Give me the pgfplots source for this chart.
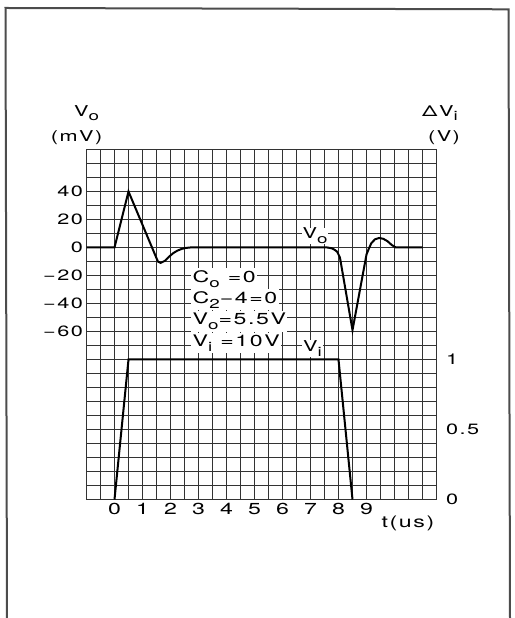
\documentclass[border=0pt]{standalone}
\usepackage{fontspec}
\setmainfont{TeX Gyre Heros}[FakeStretch=1.45,LetterSpace=10]
\usepackage{graphicx}
\usepackage{pgfplots}
\pgfplotsset{compat=1.18}
\newcommand\lo[1]{\raisebox{-0.3em}{\fontsize{13}{13}\selectfont #1}}
\newcommand\fs[1]{\fontsize{#1}{#1}\selectfont}
\begin{document}
\begin{tikzpicture}
\useasboundingbox (0bp,0bp) rectangle (515bp,618bp);
\draw[line width=2bp, black!70] (7bp,-2bp) -- (5.5bp,610bp) -- (508.5bp,608.7bp) -- (510bp,-2bp);
\begin{axis}[at={(86.5bp,118.5bp)}, anchor=south west, scale only axis,
  width=350bp, height=350bp,
  xmin=-1, xmax=11.5, ymin=-180, ymax=70, clip=false,
  xtick={0,1,2,3,4,5,6,7,8,9}, xticklabels={0,1,2,3,4,5,6,7,8,9},
  minor xtick={-1,-0.5,0,0.5,1,1.5,2,2.5,3,3.5,4,4.5,5,5.5,6,6.5,7,7.5,8,8.5,9,9.5,10,10.5,11,11.5},
  ytick={-60,-40,-20,0,20,40}, yticklabels={−60,−40,−20,0,20,40},
  minor ytick={-180,-170,-160,-150,-140,-130,-120,-110,-100,-90,-80,-70,-60,-50,-40,-30,-20,-10,0,10,20,30,40,50,60,70},
  grid=minor,
  minor grid style={line width=1.3bp, black!80},
  axis line style={line width=1.3bp, black!80},
  major tick length=0, minor tick length=0,
  xticklabel style={font=\fs{16}},
  yticklabel style={font=\fs{15}},
]
\addplot[line width=2bp, black] coordinates {
(-1,0)(0,0)(0.5,40)(1.55,-10)(1.65,-11)(1.8,-9.5)(1.95,-6.5)(2.1,-4)(2.25,-2.2)(2.4,-1)(2.55,-0.3)(2.7,0)
(7.6,0)(7.75,-0.5)(7.85,-1.5)(7.95,-3)(8.05,-7)(8.5,-59)(9.0,-5)(9.08,-1)(9.17,3)(9.3,5.8)(9.45,6.8)(9.6,6.2)(9.75,4.5)(9.9,1.8)(10.05,0)(11,0)};
\end{axis}
\begin{axis}[at={(86.5bp,118.5bp)}, anchor=south west, scale only axis,
  width=350bp, height=350bp,
  xmin=-1, xmax=11.5, ymin=0, ymax=2.5, clip=false,
  axis x line=none, axis y line*=right, y axis line style={draw=none},
  ytick={0,0.5,1}, yticklabels={0,0.5,1},
  major tick length=0,
  yticklabel style={font=\fs{15}, anchor=west, xshift=6bp},
]
\addplot[line width=2bp, black] coordinates {(0,0)(0.5,1)(8,1)(8.5,0)};
\end{axis}
% axis titles
\node[font=\fs{15}] at (86.5bp,505bp) {V\lo{o}};
\node[font=\fs{15}] at (76.7bp,480.5bp) {(mV)};
\node[font=\fs{15}] at (440bp,505bp) {ΔV\lo{i}};
\node[font=\fs{15}] at (444bp,480.5bp) {(V)};
\node[font=\fs{16}] at (408bp,95bp) {t(us)};
% curve labels
\node[font=\fs{15}, anchor=base west, fill=white, inner sep=0.5bp] at (302bp,379bp) {V\lo{o}};
\node[font=\fs{15}, anchor=base west, fill=white, inner sep=1bp] at (302bp,266bp) {V\lo{i}};
% annotation
\begin{scope}[every node/.style={font=\fs{16}, anchor=base west, fill=white, inner xsep=1.5bp, inner ysep=2bp}]
\node at (191bp,335.7bp) {C\lo{o} =0};
\node at (191bp,314.7bp) {C\lo{2}−4=0};
\node at (191bp,293bp) {V\lo{o}=5.5V};
\node at (191bp,271.3bp) {V\lo{i} =10V};
\end{scope}
\end{tikzpicture}
\end{document}
